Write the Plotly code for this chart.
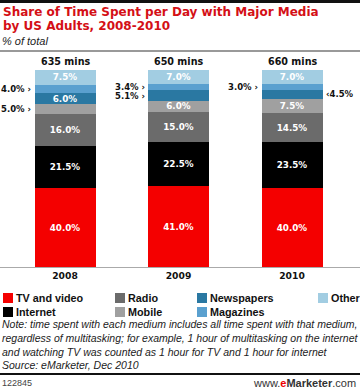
import plotly.graph_objects as go

years = ["2008", "2009", "2010"]
totals = ["635 mins", "650 mins", "660 mins"]
series = ["TV and video", "Internet", "Radio", "Mobile", "Newspapers", "Magazines", "Other"]
tv = [40.0, 41.0, 40.0]
internet = [21.5, 22.5, 23.5]
radio = [16.0, 15.0, 14.5]
mobile = [5.0, 6.0, 7.5]
newspapers = [6.0, 5.1, 4.5]
magazines = [4.0, 3.4, 3.0]
other = [7.5, 7.0, 7.0]
values = [tv, internet, radio, mobile, newspapers, magazines, other]
colors = ["#f40000", "#000000", "#6b6b6b", "#a0a0a0", "#2a78a2", "#5aa0cf", "#a2cde2"]
# which side an outside label goes ("L" left, "R" right)
outside_side = {(4, 2): "R"}

W, H = 360, 388
T, B = 70, 121
PH = H - T - B
xpos = [0, 1, 2]
unit = 113.5
x0 = -65 / unit
xr = [x0, x0 + W / unit]
bw = 61 / unit

def py(p):  # pixel y -> paper y
    return (H - B - p) / PH

def px(p):
    return p / W

fig = go.Figure()
for i, (name, vals, col) in enumerate(zip(series, values, colors)):
    txt = [f"{v:.1f}%" if v >= 6 else "" for v in vals]
    fig.add_trace(go.Bar(
        x=xpos, y=vals, name=name, marker=dict(color=col, line=dict(width=0)),
        width=bw, text=txt, textposition="inside", insidetextanchor="middle",
        textangle=0, constraintext="none",
        textfont=dict(family="DejaVu Sans", size=8.8, color="white", weight="bold"),
        showlegend=False, hoverinfo="skip",
    ))

ann = []
# outside labels
lab_font = dict(family="DejaVu Sans", size=8.5, color="#111", weight="bold")
for j in range(3):
    cum = 0
    for i, vals in enumerate(values):
        v = vals[j]
        mid = cum + v / 2
        cum += v
        if v < 6:
            side = outside_side.get((i, j), "L")
            if side == "L":
                ann.append(dict(x=xpos[j] - bw / 2 - 0.01, y=mid, xref="x", yref="y",
                                text=f"{v:.1f}% ›", xanchor="right", yanchor="middle",
                                showarrow=False, font=lab_font))
            else:
                ann.append(dict(x=xpos[j] + bw / 2 + 0.01, y=mid, xref="x", yref="y",
                                text=f"‹{v:.1f}%", xanchor="left", yanchor="middle",
                                showarrow=False, font=lab_font))
    ann.append(dict(x=xpos[j], y=sum(v[j] for v in values), xref="x", yref="y",
                    text=totals[j], xanchor="center", yanchor="bottom", yshift=1,
                    showarrow=False,
                    font=dict(family="DejaVu Sans", size=9.6, color="#111", weight="bold")))

# titles
ann.append(dict(x=px(1), y=py(12), xref="paper", yref="paper", xanchor="left", yanchor="middle",
                text="Share of Time Spent per Day with Major Media", showarrow=False,
                font=dict(family="DejaVu Sans", size=12, color="#d40f16", weight="bold")))
ann.append(dict(x=px(1), y=py(26), xref="paper", yref="paper", xanchor="left", yanchor="middle",
                text="by US Adults, 2008-2010", showarrow=False,
                font=dict(family="DejaVu Sans", size=12, color="#d40f16", weight="bold")))
ann.append(dict(x=px(0), y=py(41), xref="paper", yref="paper", xanchor="left", yanchor="middle",
                text="<i>% of total</i>", showarrow=False,
                font=dict(family="Liberation Sans", size=11, color="#222")))

# legend (custom)
legend_cols = [3, 115, 197, 318]
legend_rows = [298, 312]
legend_layout = [(0, 0, 0), (1, 0, 1), (2, 1, 0), (3, 1, 1), (4, 2, 0), (5, 2, 1), (6, 3, 0)]
shapes = []
for si, c, r in legend_layout:
    mx = legend_cols[c]
    my = legend_rows[r]
    shapes.append(dict(type="rect", xref="paper", yref="paper",
                       x0=px(mx), x1=px(mx + 10), y0=py(my + 5), y1=py(my - 5),
                       fillcolor=colors[si], line=dict(width=0)))
    ann.append(dict(x=px(mx + 11), y=py(my), xref="paper", yref="paper",
                    xanchor="left", yanchor="middle", text=series[si], showarrow=False,
                    font=dict(family="Liberation Sans", size=10.8, color="#111", weight="bold")))

notes = ["Note: time spent with each medium includes all time spent with that medium,",
         "regardless of multitasking; for example, 1 hour of multitasking on the internet",
         "and watching TV was counted as 1 hour for TV and 1 hour for internet",
         "Source: eMarketer, Dec 2010"]
for k, line in enumerate(notes):
    ann.append(dict(x=px(0), y=py(324 + 13.8 * k), xref="paper", yref="paper",
                    xanchor="left", yanchor="middle", text=f"<i>{line}</i>", showarrow=False,
                    font=dict(family="Liberation Sans", size=10.5, color="#222")))

ann.append(dict(x=px(0), y=py(383), xref="paper", yref="paper", xanchor="left", yanchor="middle",
                text="122845", showarrow=False,
                font=dict(family="Liberation Sans", size=9, color="#444")))
ann.append(dict(x=px(358), y=py(382.5), xref="paper", yref="paper", xanchor="right", yanchor="middle",
                text="www.<b><span style='color:#e00'>e</span>Marketer</b>.com", showarrow=False,
                font=dict(family="Liberation Sans", size=11, color="#333")))

# rules
shapes.append(dict(type="line", xref="paper", yref="paper", x0=0, x1=1, y0=py(1.5), y1=py(1.5),
                   line=dict(color="#111", width=3)))
shapes.append(dict(type="line", xref="paper", yref="paper", x0=0, x1=1, y0=py(51), y1=py(51),
                   line=dict(color="#999", width=2)))
shapes.append(dict(type="line", xref="paper", yref="paper", x0=0, x1=1, y0=py(374), y1=py(374),
                   line=dict(color="#111", width=2)))

fig.update_layout(
    barmode="stack", width=W, height=H, autosize=False,
    margin=dict(l=0, r=0, t=T, b=B, pad=0),
    paper_bgcolor="white", plot_bgcolor="white",
    annotations=ann, shapes=shapes, showlegend=False,
    xaxis=dict(range=xr, tickvals=xpos, ticktext=years, showgrid=False, zeroline=False,
               showline=True, linecolor="#aaa", linewidth=1, ticks="", fixedrange=True,
               tickfont=dict(family="DejaVu Sans", size=9.2, color="#111", weight="bold")),
    yaxis=dict(range=[0, 100], visible=False, fixedrange=True),
)
fig.write_html("out.html", config={"displayModeBar": False},
               post_script="document.body.style.margin='0';document.body.style.overflow='hidden';")
